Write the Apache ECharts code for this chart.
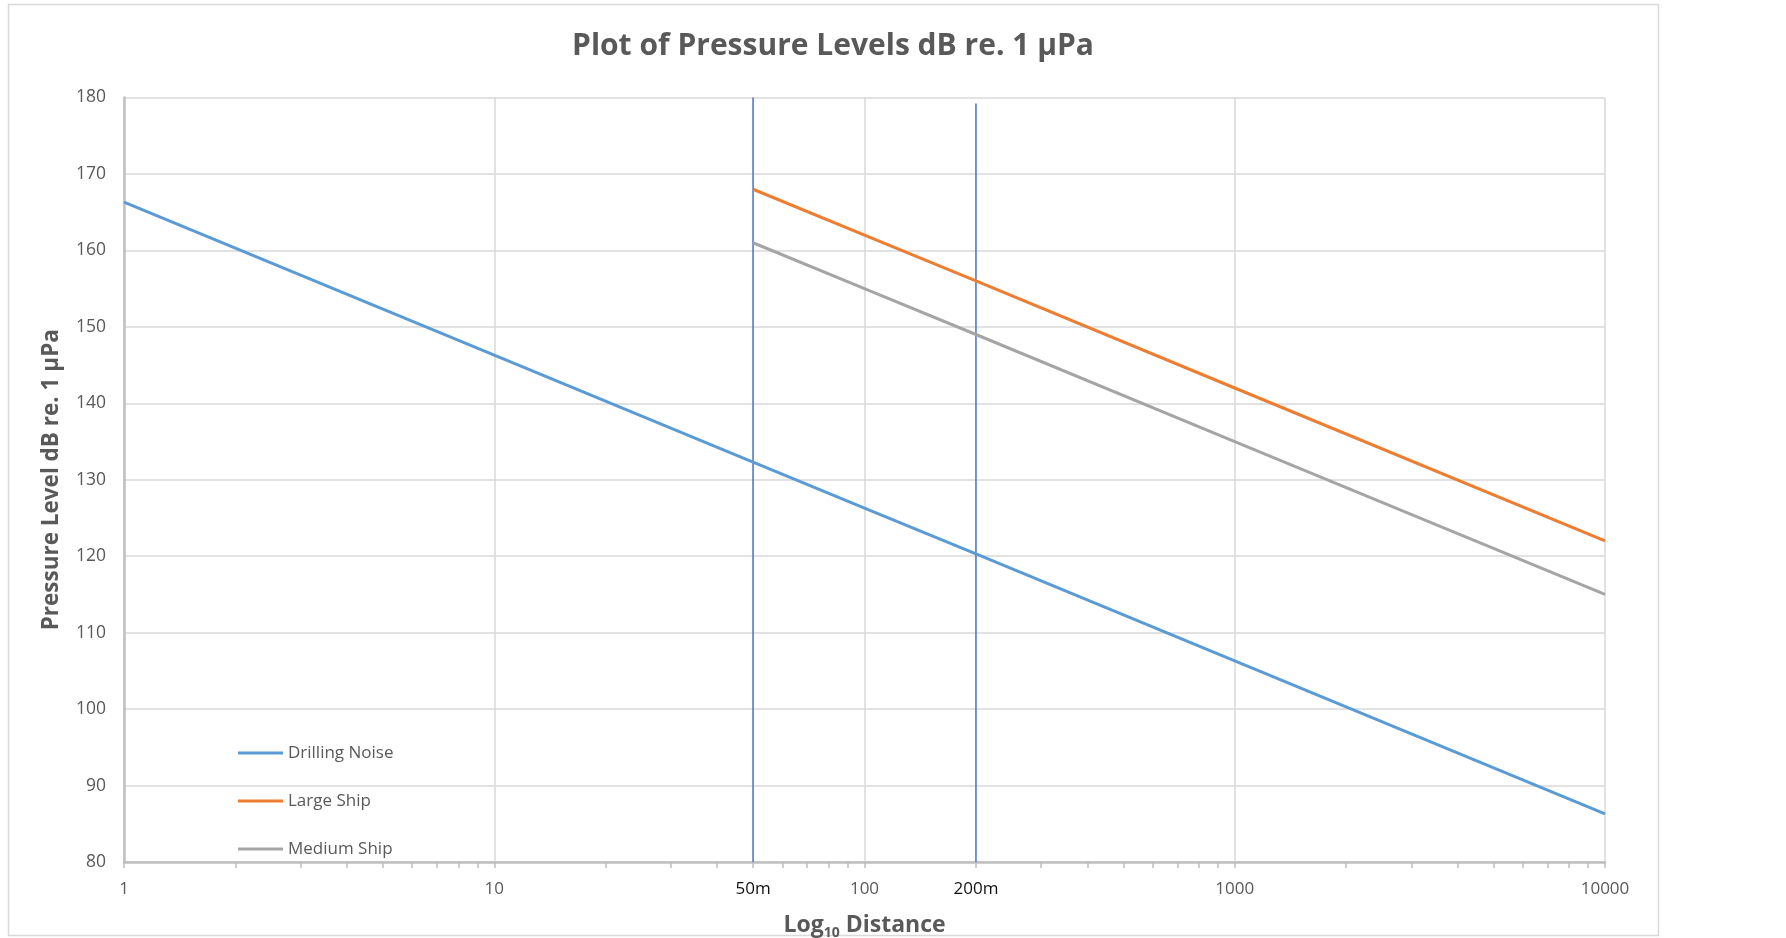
<!DOCTYPE html>
<html>
<head>
<meta charset="utf-8">
<title>Plot of Pressure Levels</title>
<script src="https://cdn.jsdelivr.net/npm/echarts@6/dist/echarts.min.js"></script>
<style>
  html, body { margin: 0; padding: 0; background: #fff; }
  #chart { width: 1786px; height: 938px; }
</style>
</head>
<body>
<div id="chart"></div>
<script>
// values (x = distance in m, y = dB re. 1 µPa)
const drillingNoise = [[1, 166.3], [10, 146.3], [50, 132.3], [100, 126.3], [200, 120.3], [1000, 106.3], [10000, 86.3]];
const largeShip = [[50, 168], [100, 162], [200, 156], [1000, 142], [10000, 122]];
const mediumShip = [[50, 161], [100, 155], [200, 149], [1000, 135], [10000, 115]];
const marker50 = [[50, 80], [50, 180]];
const marker200 = [[200, 80], [200, 179.2]];

const xLabelValues = [1, 10, 50, 100, 200, 1000, 10000];
const markerLabels = { 50: "50m", 200: "200m" };

// log ticks 1,2..9,10,20..90,... for the x axis
const xTickValues = [];
for (let d = 1; d < 10000; d *= 10) {
  for (let k = 1; k < 10; k++) xTickValues.push(d * k);
}
xTickValues.push(10000);

const grey = "#595959";
const font = "'Open Sans', 'Noto Sans', sans-serif";

const chart = echarts.init(document.getElementById("chart"));
chart.setOption({
  animation: false,
  textStyle: { fontFamily: font },
  graphic: [
    {
      type: "rect",
      shape: { x: 8.5, y: 4.5, width: 1650, height: 931 },
      style: { fill: "none", stroke: "#d9d9d9", lineWidth: 1.5 },
      silent: true
    },
    {
      type: "text",
      x: 833,
      y: 46,
      style: {
        text: "Plot of Pressure Levels dB re. 1 µPa",
        fill: grey,
        font: "bold 30px " + font,
        align: "center",
        verticalAlign: "middle"
      }
    }
  ],
  grid: { left: 124, right: 181, top: 97.5, bottom: 76, outerBoundsMode: "none" },
  legend: {
    orient: "vertical",
    left: 233,
    top: 738,
    icon: "rect",
    itemWidth: 45,
    itemHeight: 3,
    itemGap: 28,
    data: ["Drilling Noise", "Large Ship", "Medium Ship"],
    textStyle: { color: grey, fontSize: 17, lineHeight: 20, fontFamily: font }
  },
  xAxis: [
    {
      type: "log",
      logBase: 10,
      min: 1,
      max: 10000,
      name: "{a|Log}{s|10}{a| Distance}",
      nameLocation: "middle",
      nameGap: 49,
      nameTextStyle: {
        rich: {
          a: { fontSize: 23, fontWeight: "bold", color: grey, fontFamily: font },
          s: { fontSize: 14, fontWeight: "bold", color: grey, fontFamily: font, padding: [15, 0, 0, 0] }
        }
      },
      axisLine: { show: true, lineStyle: { color: "#bfbfbf", width: 2.5 } },
      axisTick: { show: true, length: 6, customValues: xTickValues, lineStyle: { color: "#bfbfbf", width: 1.5 } },
      minorTick: { show: false },
      splitLine: { show: false },
      axisLabel: {
        customValues: xLabelValues,
        margin: 19,
        fontSize: 17,
        color: grey,
        fontFamily: font,
        formatter: function (v) {
          const k = Math.round(v);
          return markerLabels[k] ? "{m|" + markerLabels[k] + "}" : String(k);
        },
        rich: {
          m: { fontSize: 17, color: "#111", fontFamily: font }
        }
      },
      z: 3
    },
    {
      // decade grid lines only
      type: "log",
      logBase: 10,
      min: 1,
      max: 10000,
      position: "bottom",
      axisLine: { show: false },
      axisTick: { show: false },
      axisLabel: { show: false },
      splitLine: { show: true, lineStyle: { color: "#d9d9d9", width: 1.5 } }
    }
  ],
  yAxis: {
    type: "value",
    min: 80,
    max: 180,
    interval: 10,
    name: "Pressure Level dB re. 1 µPa",
    nameLocation: "middle",
    nameRotate: 90,
    nameGap: 61,
    nameTextStyle: { fontSize: 22.5, fontWeight: "bold", color: grey, fontFamily: font },
    axisLine: { show: true, lineStyle: { color: "#bfbfbf", width: 2.5 } },
    axisTick: { show: false },
    splitLine: { show: true, lineStyle: { color: "#d9d9d9", width: 1.5 } },
    axisLabel: { margin: 18, fontSize: 17.5, color: grey, fontFamily: font }
  },
  series: [
    {
      name: "50m",
      type: "line",
      data: marker50,
      symbol: "none",
      silent: true,
      lineStyle: { color: "#4472C4", width: 1.5 }
    },
    {
      name: "200m",
      type: "line",
      data: marker200,
      symbol: "none",
      silent: true,
      lineStyle: { color: "#4472C4", width: 1.5 }
    },
    {
      name: "Drilling Noise",
      type: "line",
      data: drillingNoise,
      symbol: "none",
      color: "#5B9BD5",
      lineStyle: { width: 3 }
    },
    {
      name: "Large Ship",
      type: "line",
      data: largeShip,
      symbol: "none",
      color: "#ED7D31",
      lineStyle: { width: 3 }
    },
    {
      name: "Medium Ship",
      type: "line",
      data: mediumShip,
      symbol: "none",
      color: "#A5A5A5",
      lineStyle: { width: 3 }
    }
  ]
});
</script>
</body>
</html>
